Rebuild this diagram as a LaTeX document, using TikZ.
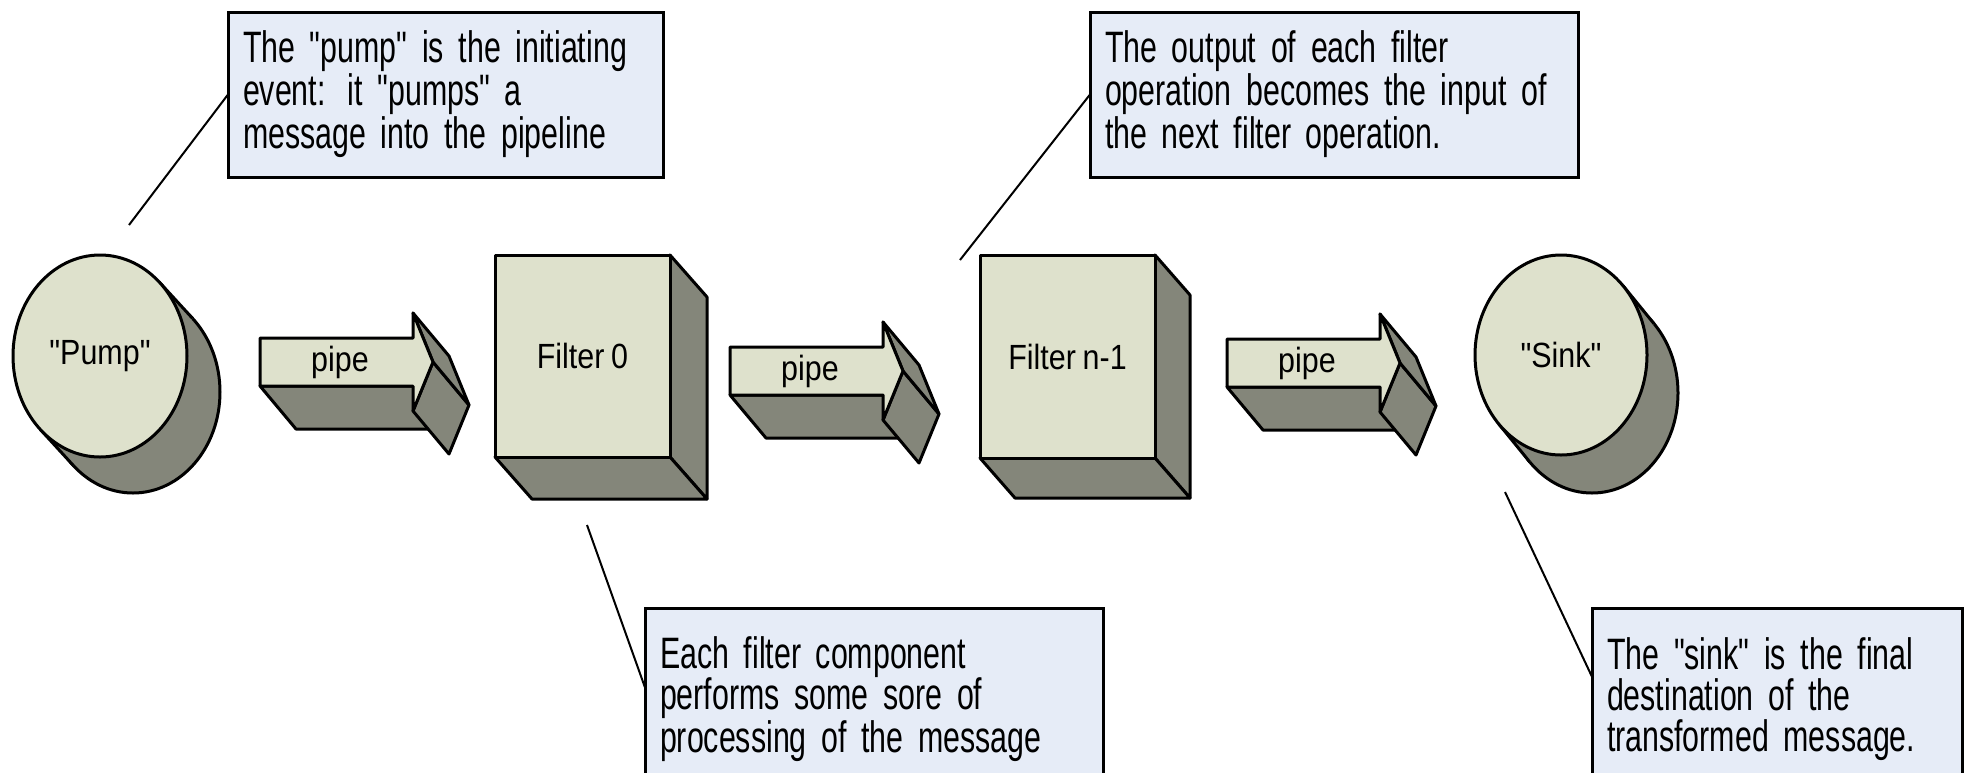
\documentclass[tikz,border=0pt]{standalone}
\usepackage{fontspec}
\newfontfamily\notefont[FakeStretch=0.69, WordSpace=0.6]{Liberation Sans}
\newfontfamily\shapefont[FakeStretch=0.87, WordSpace=0.8]{Liberation Sans}
\usetikzlibrary{shapes.geometric, calc, backgrounds}
\definecolor{facecol}{RGB}{222,225,204}
\definecolor{sidecol}{RGB}{132,134,122}
\definecolor{notecol}{RGB}{230,236,247}

\begin{document}
\begin{tikzpicture}[x=0.5pt, y=-0.5pt,
    frontface/.style={draw, fill=facecol, line width=1.5pt, line join=round, inner sep=0pt, outer sep=0pt},
    sideface/.style={draw, fill=sidecol, line width=1.5pt, line join=round, inner sep=0pt, outer sep=0pt},
    shapetext/.style={font=\shapefont\fontsize{17.5}{20}\selectfont},
    notebox/.style={draw, fill=notecol, line width=1.5pt, anchor=north west, align=left,
        inner xsep=7.5pt, inner ysep=0pt, outer sep=0pt, font=\notefont\fontsize{22}{20.5}\selectfont},
    leader/.style={line width=1pt}]
    \useasboundingbox (0,0) rectangle (1968,772);
    \clip (0,0) rectangle (1968,772);

    % Front faces of pump, filters and sink
    \node[frontface, shapetext, ellipse, minimum width=87pt, minimum height=101pt] (pump) at (100,356) {"Pump"};
    \node[frontface, shapetext, anchor=north west, minimum width=87.5pt, minimum height=101pt] (filter0) at (495,255) {Filter 0};
    \node[frontface, shapetext, anchor=north west, minimum width=87.5pt, minimum height=101.5pt] (filtern) at (980,255) {Filter n-1};
    \node[frontface, shapetext, ellipse, minimum width=86pt, minimum height=100pt] (sink) at (1561,355) {"Sink"};

    % Shaded depth behind them
    \begin{scope}[on background layer]
        \node[sideface, ellipse, minimum width=87pt, minimum height=101pt] (pumpback) at ($(pump.center)+(33,36)$) {};
        \draw[sideface] (pumpback.231) -- (pump.231) -- (pump.51) -- (pumpback.51);
        \node[sideface, ellipse, minimum width=86pt, minimum height=100pt] (sinkback) at ($(sink.center)+(31,38)$) {};
        \draw[sideface] (sinkback.228) -- (sink.228) -- (sink.48) -- (sinkback.48);

        \draw[sideface] (filter0.north east) -- ++(37,42) -- ($(filter0.south east)+(37,42)$) -- (filter0.south east) -- cycle;
        \draw[sideface] (filter0.south west) -- ++(37,42) -- ($(filter0.south east)+(37,42)$) -- (filter0.south east) -- cycle;
        \draw[sideface] (filtern.north east) -- ++(35,40) -- ($(filtern.south east)+(35,40)$) -- (filtern.south east) -- cycle;
        \draw[sideface] (filtern.south west) -- ++(35,40) -- ($(filtern.south east)+(35,40)$) -- (filtern.south east) -- cycle;
    \end{scope}

    % The three pipes
    \foreach \px/\py/\pn in {260/338/1, 730/347/2, 1227/339/3} {
        \begin{scope}[shift={(\px,\py)}]
            \draw[sideface] (0,48) -- (153,48) -- (189,91) -- (36,91) -- cycle;
            \draw[sideface] (173,24) -- (153,73) -- (189,116) -- (209,67) -- cycle;
            \draw[sideface] (153,-25) -- (173,24) -- (209,67) -- (189,18) -- cycle;
            \draw[frontface] (0,0) -- (153,0) -- (153,-25) -- (173,24) -- (153,73) -- (153,48) -- (0,48) -- cycle;
            \node[shapetext] (pipe\pn) at (80,24) {pipe};
        \end{scope}
    }

    % Callouts
    \node[notebox, minimum width=217.5pt, minimum height=82.5pt, text width=202.5pt] (pumpnote) at (228,12)
        {The "pump" is the initiating\\event: it "pumps" a\\message into the pipeline};
    \node[notebox, minimum width=244pt, minimum height=82.5pt, text width=229pt] (flownote) at (1090,12)
        {The output of each filter\\operation becomes the input of\\the next filter operation.};
    \node[notebox, minimum width=229pt, minimum height=91.5pt, text width=214pt] (procnote) at (645,608)
        {Each filter component\\performs some sore of\\processing of the message};
    \node[notebox, minimum width=185pt, minimum height=91.5pt, text width=170pt] (sinknote) at (1592,608)
        {The "sink" is the final\\destination of the\\transformed message.};

    % Leader lines
    \coordinate (pumpfoot) at (129,225);
    \coordinate (filterfoot) at (960,260);
    \coordinate (procfoot) at (587,525);
    \coordinate (sinkfoot) at (1505,492);
    \draw[leader] (pumpfoot) -- (pumpnote.west);
    \draw[leader] (filterfoot) -- (flownote.west);
    \draw[leader] (procfoot) -- (procnote.177);
    \draw[leader] (sinkfoot) -- (sinknote.173);
\end{tikzpicture}
\end{document}
